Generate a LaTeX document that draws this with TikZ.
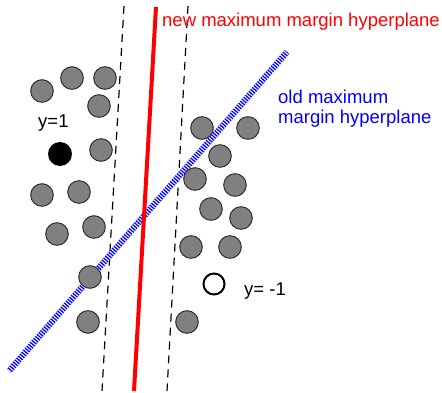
\documentclass[tikz,border=0pt]{standalone}
\usepackage{fontspec}
\setmainfont{Liberation Sans}
\begin{document}
\begin{tikzpicture}[x=1pt,y=-1pt,
  pt/.style={circle,draw=black!80,line width=1pt,fill=black!50,minimum size=22.6pt,inner sep=0pt},
  ptpos/.style={circle,draw=black,line width=2pt,fill=white,minimum size=21pt,inner sep=0pt},
  ptneg/.style={circle,fill=black,minimum size=24pt,inner sep=0pt},
  margin/.style={dashed,dash pattern=on 8pt off 6pt,line width=1.2pt},
  lbl/.style={anchor=base west,inner sep=0pt,font=\fontsize{18.5}{20}\selectfont}
]
\useasboundingbox (0,0) rectangle (442,393);
% coordinates of lines
\coordinate (lt) at (124,6);
\coordinate (lb) at (102,391);
\coordinate (rt) at (188,6);
\coordinate (rb) at (167,391);
\coordinate (nt) at (156,7);
\coordinate (nb) at (134,391);
\coordinate (ob) at (9,371);
\coordinate (ot) at (287,52);
% margins
\draw[margin] (lt) -- (lb);
\draw[margin] (rt) -- (rb);
% old hyperplane (hatched)
\draw[blue,line width=6pt] (ob) -- (ot);
\draw[white,line width=6pt,dash pattern=on 1pt off 1.6pt] (ob) -- (ot);
% new hyperplane
\draw[red,line width=4pt] (nt) -- (nb);
% left points
\node[pt] (a1) at (42,91) {};
\node[pt] (a2) at (72,78) {};
\node[pt] (a3) at (105,78) {};
\node[pt] (a4) at (99,106) {};
\node[pt] (a5) at (101,150) {};
\node[ptneg] (a6) at (60,154) {};
\node[pt] (a7) at (42,195) {};
\node[pt] (a8) at (79,192) {};
\node[pt] (a9) at (57,234) {};
\node[pt] (a10) at (94,227) {};
\node[pt] (a11) at (90,277) {};
\node[pt] (a12) at (88,322) {};
% right points
\node[pt] (b1) at (202,128) {};
\node[pt] (b2) at (248,128) {};
\node[pt] (b3) at (220,156) {};
\node[pt] (b4) at (195,179) {};
\node[pt] (b5) at (235,185) {};
\node[pt] (b6) at (211,209) {};
\node[pt] (b7) at (241,218) {};
\node[pt] (b8) at (191,247) {};
\node[pt] (b9) at (230,247) {};
\node[ptpos] (b10) at (214,284) {};
\node[pt] (b11) at (187,322) {};
% labels
\node[lbl,text=red] (tnew) at (162,27) {new maximum margin hyperplane};
\node[lbl,text=blue] (told1) at (278,104) {old maximum};
\node[lbl,text=blue] (told2) at (278,124) {margin hyperplane};
\node[lbl] (ty1) at (38,128) {y=1};
\node[lbl] (ty2) at (244,295) {y= -1};
\end{tikzpicture}
\end{document}
